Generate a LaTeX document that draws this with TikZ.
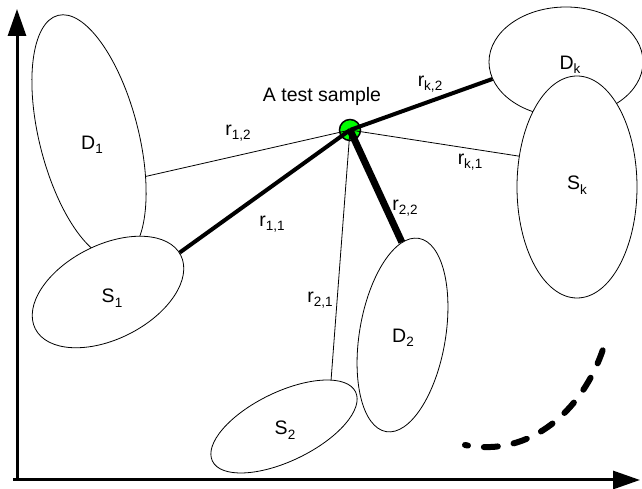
\documentclass[tikz,border=0pt]{standalone}
\usepackage{fontspec}
\setmainfont{Liberation Sans}
\usepackage{tikz}
\usetikzlibrary{shapes.geometric,arrows.meta,positioning}
\definecolor{samplegreen}{HTML}{00FF00}
\newcommand{\sublbl}[2]{#1\raisebox{-4.5pt}{\fontsize{13.5}{13.5}\selectfont #2}}
\tikzstyle{cluster} = [ellipse, draw=black, fill=white, line width=0.8pt, inner sep=0pt]
\tikzstyle{axis} = [-{Triangle[length=27pt,width=18pt]}, line width=3pt]
\tikzstyle{dthin} = [line width=0.8pt]
\tikzstyle{dthick} = [line width=4pt]
\tikzstyle{dthickest} = [line width=7pt]
\tikzstyle{testpt} = [circle, draw=black, fill=samplegreen, line width=1.5pt, minimum size=21pt, inner sep=0pt]
\tikzstyle{lbl} = [font=\fontsize{19.5}{23}\selectfont, inner sep=0pt]
\tikzstyle{trend} = [line width=6pt, line cap=round, dash pattern=on 14pt off 16pt, dash phase=11pt]

\begin{document}
\begin{tikzpicture}[x=1pt, y=1pt]
\useasboundingbox (0,0) rectangle (642,489);
% axes
\coordinate (O) at (17,9);
\coordinate (ytip) at (17,480);
\coordinate (xtip) at (640,9);
\draw[axis] (O) -- (ytip);
\draw[axis] ([xshift=-4pt]O) -- (xtip);

% clusters
\node[cluster, minimum width=99pt, minimum height=251pt, rotate=14.3] (D1) at (89,352) {};
\node[cluster, minimum width=163pt, minimum height=94pt, rotate=26.8] (S1) at (108,197) {};
\node[cluster, minimum width=159pt, minimum height=69pt, rotate=25.8] (S2) at (284,62.5) {};
\node[cluster, minimum width=86pt, minimum height=196pt, rotate=-9.6] (D2) at (402.5,154) {};
\node[cluster, minimum width=154pt, minimum height=110pt] (Dk) at (566,427) {};
\node[cluster, minimum width=120pt, minimum height=222pt] (Sk) at (577,302) {};

% test sample and distances
\node[testpt] (sample) at (350,359) {};
\draw[dthin] (sample.center) -- (D1.-49);
\draw[dthick] (sample.center) -- (S1.2);
\draw[dthickest] (sample.center) -- (D2.100);
\draw[dthin] (sample.center) -- (S2.19);
\draw[dthick] (sample.center) -- (Dk.193);
\draw[dthin] (sample.center) -- (Sk.152);

% labels
\node[lbl] (samplelbl) at (322,393) {A test sample};
\node[lbl] (r12) at (238,356) {\sublbl{r}{1,2}};
\node[lbl] (r11) at (272,265) {\sublbl{r}{1,1}};
\node[lbl] (rk2) at (430,405) {\sublbl{r}{k,2}};
\node[lbl] (rk1) at (470,327) {\sublbl{r}{k,1}};
\node[lbl] (r22) at (405,281) {\sublbl{r}{2,2}};
\node[lbl] (r21) at (320,189) {\sublbl{r}{2,1}};
\node[lbl] (D1lbl) at (92,344) {\sublbl{D}{1}};
\node[lbl] (S1lbl) at (112,191) {\sublbl{S}{1}};
\node[lbl] (S2lbl) at (285,59) {\sublbl{S}{2}};
\node[lbl] (D2lbl) at (403,151) {\sublbl{D}{2}};
\node[lbl] (Dklbl) at (570,424) {\sublbl{D}{k}};
\node[lbl] (Sklbl) at (577,304) {\sublbl{S}{k}};

% trend
\coordinate (trendA) at (465,44);
\coordinate (trendB) at (605,146);
\draw[trend] (trendA) .. controls (530,31) and (585,79) .. (trendB);
\end{tikzpicture}
\end{document}
